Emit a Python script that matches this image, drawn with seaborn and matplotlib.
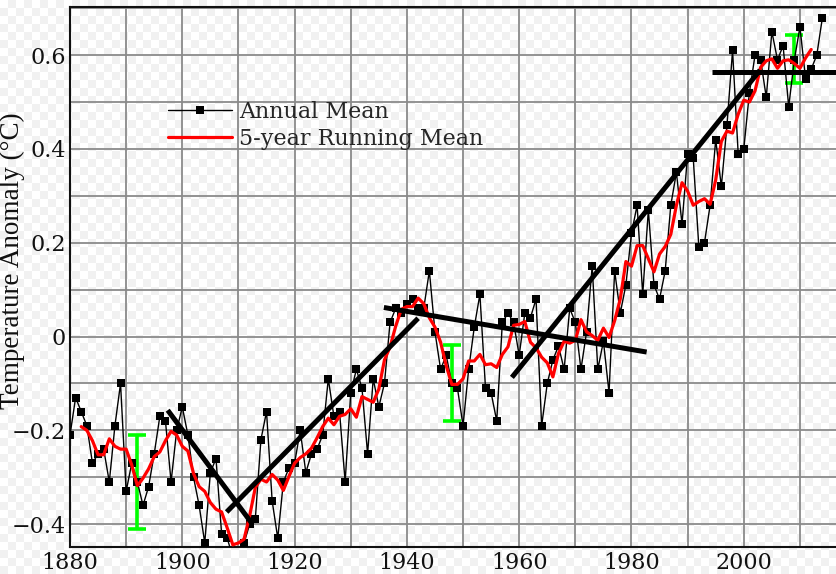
import numpy as np
import pandas as pd
import matplotlib
matplotlib.use("Agg")
import matplotlib.pyplot as plt
from matplotlib.colors import ListedColormap
from matplotlib.ticker import MultipleLocator, FixedLocator, FixedFormatter
import seaborn as sns

# ---- data -------------------------------------------------------------
years = list(range(1880, 2015))
annual_mean = [
    -0.21, -0.13, -0.16, -0.19, -0.27, -0.25, -0.24, -0.31, -0.19, -0.10,   # 1880s
    -0.33, -0.27, -0.31, -0.36, -0.32, -0.25, -0.17, -0.18, -0.31, -0.20,   # 1890s
    -0.15, -0.21, -0.30, -0.36, -0.44, -0.29, -0.26, -0.42, -0.43, -0.47,   # 1900s
    -0.46, -0.44, -0.40, -0.39, -0.22, -0.16, -0.35, -0.43, -0.31, -0.28,   # 1910s
    -0.27, -0.20, -0.29, -0.25, -0.24, -0.21, -0.09, -0.17, -0.16, -0.31,   # 1920s
    -0.12, -0.07, -0.11, -0.25, -0.09, -0.15, -0.10, 0.03, 0.06, 0.05,      # 1930s
    0.07, 0.08, 0.06, 0.06, 0.14, 0.01, -0.07, -0.04, -0.10, -0.11,         # 1940s
    -0.19, -0.07, 0.02, 0.09, -0.11, -0.12, -0.18, 0.03, 0.05, 0.03,        # 1950s
    -0.04, 0.05, 0.04, 0.08, -0.19, -0.10, -0.05, -0.02, -0.07, 0.06,       # 1960s
    0.03, -0.07, 0.01, 0.15, -0.07, -0.01, -0.12, 0.14, 0.05, 0.11,         # 1970s
    0.22, 0.28, 0.09, 0.27, 0.11, 0.08, 0.14, 0.28, 0.35, 0.24,             # 1980s
    0.39, 0.38, 0.19, 0.20, 0.28, 0.42, 0.32, 0.45, 0.61, 0.39,             # 1990s
    0.40, 0.52, 0.60, 0.59, 0.51, 0.65, 0.59, 0.62, 0.49, 0.59,             # 2000s
    0.66, 0.55, 0.57, 0.60, 0.68,                                           # 2010s
]
running_window = 5

# uncertainty bars (year, centre, half-width)
err_years = [1892, 1948, 2009]
err_center = [-0.31, -0.10, 0.592]
err_half = [0.10, 0.081, 0.052]

# straight trend segments drawn over the record
trend_start_year = [1897.4, 1907.9, 1935.9, 1958.7, 1994.3]
trend_start_val = [-0.157, -0.374, 0.062, -0.087, 0.563]
trend_end_year = [1912.5, 1942.0, 1982.7, 2002.9, 2016.6]
trend_end_val = [-0.400, 0.039, -0.033, 0.568, 0.563]

ytick_vals = [-0.4, -0.2, 0.0, 0.2, 0.4, 0.6]
ytick_labels = ["\u22120.4", "\u22120.2", "0", "0.2", "0.4", "0.6"]
x_range = (1880, 2016.6)
y_range = (-0.448, 0.702)

# ---- figure -----------------------------------------------------------
sns.set_style("white")
plt.rcParams["font.family"] = ["DejaVu Serif"]

W, H = 837, 574
fig = plt.figure(figsize=(W / 100, H / 100), dpi=100)

# faint checkered backdrop
bg = fig.add_axes([0, 0, 1, 1], zorder=-10)
cells = np.add.outer(np.arange(72), np.arange(105)) % 2
bg.imshow(cells, cmap=ListedColormap(["#ffffff", "#f1f1f1"]), aspect="auto",
          interpolation="nearest", extent=[0, 1, 0, 1])
bg.axis("off")

ax = fig.add_axes([70 / W, 27.3 / H, 767 / W, 539.4 / H])
ax.set_facecolor("none")

df = pd.DataFrame({"year": years, "anomaly": annual_mean})
df["running"] = df["anomaly"].rolling(running_window, center=True).mean()

ax.errorbar(err_years, err_center, yerr=err_half, fmt="none", ecolor="#00ff00",
            elinewidth=2.6, capsize=6.2, capthick=2.6, zorder=2)

sns.lineplot(data=df, x="year", y="anomaly", color="black", lw=1.0,
             marker="s", markersize=5.5, markeredgewidth=0,
             label="Annual Mean", ax=ax, zorder=3)
sns.lineplot(data=df.dropna(), x="year", y="running", color="#ff0000", lw=2.3,
             label="5-year Running Mean", ax=ax, zorder=4)

for x0, y0, x1, y1 in zip(trend_start_year, trend_start_val, trend_end_year, trend_end_val):
    ax.plot([x0, x1], [y0, y1], color="black", lw=3.6, solid_capstyle="butt", zorder=5)

ax.set_xlim(*x_range)
ax.set_ylim(*y_range)

ax.xaxis.set_major_locator(MultipleLocator(20))
ax.xaxis.set_minor_locator(MultipleLocator(10))
ax.yaxis.set_major_locator(FixedLocator(ytick_vals))
ax.yaxis.set_major_formatter(FixedFormatter(ytick_labels))
ax.yaxis.set_minor_locator(MultipleLocator(0.1))
ax.grid(which="both", color="#8a8a8a", lw=1.3, zorder=0)
ax.set_axisbelow(True)

ax.tick_params(which="both", length=0, labelsize=16, colors="#111111")
ax.tick_params(axis="x", pad=4)
ax.tick_params(axis="y", pad=3)

for side in ("left", "bottom", "top"):
    ax.spines[side].set_color("#111111")
    ax.spines[side].set_linewidth(1.5)
ax.spines["right"].set_visible(False)

ax.set_xlabel("")
ax.set_ylabel("Temperature Anomaly (\u00b0C)", fontsize=19.5, color="#111111",
              family=["Liberation Serif", "DejaVu Serif"])
ax.yaxis.set_label_coords(-0.0585, 0.53)

ax.legend(loc="upper left", bbox_to_anchor=(0.1278, 0.826), frameon=False,
          fontsize=16, handlelength=2.9, handletextpad=0.3, labelspacing=0.2,
          borderpad=0, borderaxespad=0)

fig.savefig("out.png", dpi=100)
